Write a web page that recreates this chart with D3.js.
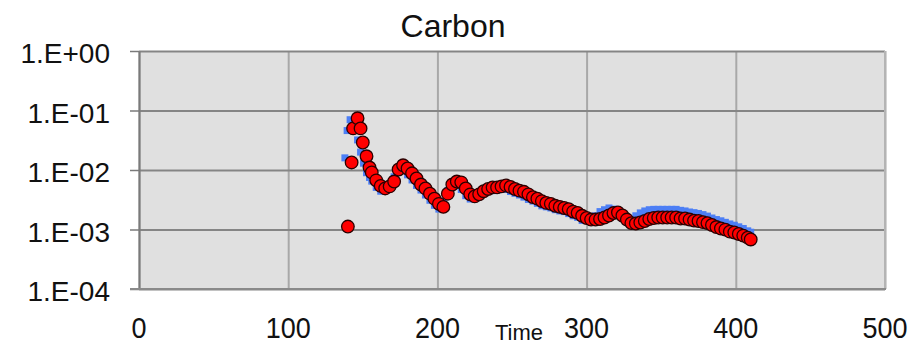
<!DOCTYPE html>
<html>
<head>
<meta charset="utf-8">
<script src="https://cdn.jsdelivr.net/npm/d3@7"></script>
<style>
  body { margin: 0; background: #fff; }
  text { font-family: "Liberation Sans", Arial, sans-serif; fill: #111; }
</style>
</head>
<body>
<svg id="chart" width="913" height="345"></svg>
<script>
// tick labels
const xTicks = [0, 100, 200, 300, 400, 500];
const yTicks = [1e-4, 1e-3, 1e-2, 1e-1, 1];
const yTickLabels = ['1.E-04', '1.E-03', '1.E-02', '1.E-01', '1.E+00'];

// red circles (time, carbon)
const redTime = [140, 142.5, 143.5, 146.5, 148.5, 150, 152.5, 154.5,
  156, 159, 162, 165, 168, 171, 174, 177, 180, 183, 186, 189, 192, 195, 198, 201, 204,
  207, 210, 213, 216, 219, 222, 225, 228, 231, 234, 237, 240, 243, 246, 249, 252, 255,
  258, 261, 264, 267, 270, 273, 276, 279, 282, 285, 288, 291, 294, 297, 300, 303, 306,
  309, 312, 315, 318, 321, 324, 327, 330, 333, 336, 339, 342, 345, 348, 351, 354, 357,
  360, 363, 366, 369, 372, 375, 378, 381, 384, 387, 390, 393, 396, 399, 402, 405, 408, 410];
const redCarbon = [1.12e-3, 1.34e-2, 5.0e-2, 7.4e-2, 5.0e-2, 2.9e-2, 1.7e-2, 1.1e-2,
  9.1e-3, 6.7e-3, 5.4e-3, 4.9e-3, 5.3e-3, 6.4e-3, 1.02e-2, 1.2e-2, 1.06e-2, 8.8e-3, 7.2e-3,
  5.7e-3, 4.9e-3, 4.0e-3, 3.3e-3, 2.7e-3, 2.4e-3,
  4.0e-3, 5.7e-3, 6.4e-3, 6.2e-3, 4.9e-3, 3.9e-3, 3.6e-3, 3.9e-3, 4.4e-3, 4.8e-3, 5.1e-3,
  5.1e-3, 5.3e-3, 5.5e-3, 5.2e-3, 4.8e-3, 4.5e-3,
  4.3e-3, 3.9e-3, 3.5e-3, 3.3e-3, 3.0e-3, 2.8e-3, 2.7e-3, 2.5e-3, 2.4e-3, 2.3e-3, 2.2e-3,
  2.0e-3, 1.9e-3, 1.7e-3, 1.56e-3, 1.47e-3, 1.47e-3,
  1.5e-3, 1.59e-3, 1.72e-3, 1.89e-3, 1.93e-3, 1.72e-3, 1.47e-3, 1.28e-3, 1.26e-3, 1.31e-3,
  1.39e-3, 1.5e-3, 1.56e-3, 1.59e-3, 1.59e-3, 1.59e-3, 1.59e-3,
  1.59e-3, 1.53e-3, 1.53e-3, 1.47e-3, 1.41e-3, 1.39e-3, 1.33e-3, 1.28e-3, 1.19e-3, 1.10e-3,
  1.04e-3, 9.96e-4, 9.2e-4, 8.9e-4, 8.4e-4, 7.9e-4, 7.3e-4, 6.8e-4];

// blue squares (time, carbon)
const blueTime = [138, 139.5, 141.5, 144, 146.5, 148.5, 150.5, 152.5, 154.5,
  156, 159, 162, 165, 168, 171, 174, 177, 180, 183, 186, 189, 192, 195, 198, 201, 204,
  207, 210, 213, 216, 219, 222, 225, 228, 231, 234, 237, 240, 243, 246, 249, 252, 255,
  258, 261, 264, 267, 270, 273, 276, 279, 282, 285, 288, 291, 294, 297, 300, 303, 306,
  309, 312, 315, 318, 321, 324, 327, 330, 333, 336, 339, 342, 345, 348, 351, 354, 357,
  360, 363, 366, 369, 372, 375, 378, 381, 384, 387, 390, 393, 396, 399, 402, 405, 408, 410];
const blueCarbon = [1.6e-2, 4.6e-2, 7.0e-2, 5.5e-2, 3.2e-2, 2.0e-2, 1.3e-2, 9.0e-3, 7.5e-3,
  6.5e-3, 5.1e-3, 4.4e-3, 4.5e-3, 5.3e-3, 7.7e-3, 1.0e-2, 9.9e-3, 8.3e-3, 6.8e-3, 5.5e-3,
  4.6e-3, 3.8e-3, 3.1e-3, 2.55e-3, 2.2e-3, 3.0e-3,
  4.5e-3, 5.5e-3, 5.5e-3, 4.7e-3, 3.7e-3, 3.25e-3, 3.3e-3, 3.7e-3, 4.1e-3, 4.4e-3, 4.5e-3,
  4.6e-3, 4.75e-3, 4.7e-3, 4.35e-3, 4.05e-3, 3.8e-3,
  3.5e-3, 3.2e-3, 3.0e-3, 2.75e-3, 2.5e-3, 2.4e-3, 2.3e-3, 2.15e-3, 2.05e-3, 2.0e-3, 1.85e-3,
  1.7e-3, 1.6e-3, 1.42e-3, 1.42e-3, 1.47e-3, 1.7e-3,
  2.0e-3, 2.15e-3, 2.3e-3, 2.2e-3, 1.85e-3, 1.55e-3, 1.42e-3, 1.47e-3, 1.7e-3, 1.9e-3,
  2.05e-3, 2.15e-3, 2.18e-3, 2.18e-3, 2.18e-3, 2.18e-3, 2.18e-3,
  2.18e-3, 2.1e-3, 2.05e-3, 1.97e-3, 1.92e-3, 1.86e-3, 1.78e-3, 1.68e-3, 1.56e-3, 1.47e-3,
  1.4e-3, 1.32e-3, 1.24e-3, 1.18e-3, 1.11e-3, 1.04e-3, 9.5e-4, 9.0e-4];

const svg = d3.select('#chart');
const margin = { top: 51, right: 28, bottom: 56, left: 139 };
const width = 913 - margin.left - margin.right;
const height = 345 - margin.top - margin.bottom;

const x = d3.scaleLinear().domain([0, 500]).range([0, width]);
const y = d3.scaleLog().domain([1e-4, 1]).range([height, 0]);

const chart = svg.append('g')
  .attr('transform', `translate(${margin.left}, ${margin.top})`);

// plot area
chart.append('rect')
  .attr('width', width).attr('height', height)
  .attr('fill', '#e0e0e0');

// vertical grid
chart.append('g')
  .attr('transform', `translate(0, ${height})`)
  .call(d3.axisBottom(x).tickValues(xTicks).tickSize(-height).tickFormat(''))
  .call(g => g.select('.domain').remove())
  .call(g => g.selectAll('line').attr('stroke', '#a8a8a8').attr('stroke-width', 2));

// horizontal grid
chart.append('g')
  .call(d3.axisLeft(y).tickValues(yTicks).tickSize(-width).tickFormat(''))
  .call(g => g.select('.domain').remove())
  .call(g => g.selectAll('line').attr('stroke', '#858585').attr('stroke-width', 2));

// right border
chart.append('line')
  .attr('x1', width).attr('x2', width).attr('y1', 0).attr('y2', height)
  .attr('stroke', '#b4b4b4').attr('stroke-width', 2);

// y axis with outer ticks
chart.append('g')
  .call(d3.axisLeft(y).tickValues(yTicks).tickSize(9).tickSizeOuter(0)
    .tickFormat((d, i) => yTickLabels[i]))
  .call(g => g.select('.domain').attr('stroke', '#7a7a7a').attr('stroke-width', 2))
  .call(g => g.selectAll('line').attr('stroke', '#7a7a7a').attr('stroke-width', 1.5))
  .call(g => g.selectAll('text')
    .attr('x', -29).attr('dy', '0.42em')
    .style('font-size', '28px').style('font-family', '"Liberation Sans", Arial, sans-serif')
    .attr('fill', '#111'));

// bottom line
chart.append('line')
  .attr('x1', -9).attr('x2', width + 1).attr('y1', height).attr('y2', height)
  .attr('stroke', '#8a8a8a').attr('stroke-width', 2);

// x tick labels (narrow digits)
chart.append('g')
  .selectAll('text')
  .data(xTicks)
  .join('text')
  .attr('transform', d => `translate(${x(d)}, ${height + 49}) scale(0.9, 1)`)
  .attr('text-anchor', 'middle')
  .style('font-size', '30px')
  .text(d => d);

// blue squares
const sq = 7;
chart.append('g')
  .selectAll('rect')
  .data(blueTime.map((t, i) => [t, blueCarbon[i]]))
  .join('rect')
  .attr('x', d => x(d[0]) - sq / 2)
  .attr('y', d => y(d[1]) - sq / 2)
  .attr('width', sq).attr('height', sq)
  .attr('fill', '#4d7ff5');

// red circles
chart.append('g')
  .selectAll('circle')
  .data(redTime.map((t, i) => [t, redCarbon[i]]))
  .join('circle')
  .attr('cx', d => x(d[0]))
  .attr('cy', d => y(d[1]))
  .attr('r', 6.3)
  .attr('fill', '#ff0000')
  .attr('stroke', '#2a0000')
  .attr('stroke-width', 1.3);

// title and axis name
svg.append('text')
  .attr('x', 453).attr('y', 37)
  .attr('text-anchor', 'middle')
  .style('font-size', '32px')
  .text('Carbon');

svg.append('text')
  .attr('x', 519).attr('y', 340)
  .attr('text-anchor', 'middle')
  .style('font-size', '22px')
  .text('Time');
</script>
</body>
</html>
